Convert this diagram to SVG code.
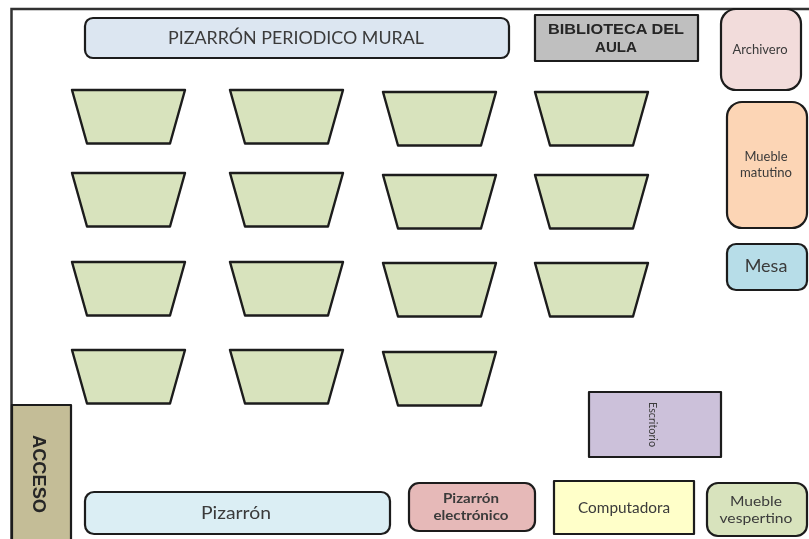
<svg xmlns="http://www.w3.org/2000/svg" width="809" height="539" viewBox="0 0 809 539">
<style>
text{font-family:Lato,"Open Sans","Liberation Sans",sans-serif;text-anchor:middle;fill:#3a3a3a}
.b{stroke:#1c1c1c;stroke-width:2.200;stroke-linejoin:round}
.d{fill:#d8e3bd;stroke:#1c1c1c;stroke-width:2.400;stroke-linejoin:round}
.a{font-family:"Liberation Sans",Arial,sans-serif;font-weight:700;fill:#262626}
</style>
<defs>
<filter id="soft" x="-2%" y="-2%" width="104%" height="104%"><feGaussianBlur stdDeviation="0.45"/></filter>
<polygon id="desk" class="d" points="0,0 113,0 98,53.500 15,53.500"/>
</defs>
<rect width="809" height="539" fill="#fff"/>
<g filter="url(#soft)">
<path id="walls" d="M809 9H11.500V539" fill="none" stroke="#333" stroke-width="2.500"/>
<g id="pizarron-mural"><rect class="b" x="85" y="18" width="424" height="40" rx="8" fill="#dce6f1"/><text x="296" y="43.500" font-size="18" textLength="256" lengthAdjust="spacingAndGlyphs">PIZARRÓN PERIODICO MURAL</text></g>
<g id="biblioteca"><rect class="b" x="535" y="15" width="163" height="46" fill="#bfbfbf"/><text class="a" x="616" y="34" font-size="14.500" textLength="136" lengthAdjust="spacingAndGlyphs">BIBLIOTECA DEL</text><text class="a" x="616" y="52" font-size="14.500" textLength="42" lengthAdjust="spacingAndGlyphs">AULA</text></g>
<g id="archivero"><rect class="b" x="721" y="9" width="80" height="81" rx="15" fill="#f2dcdb"/><text x="760" y="54" font-size="13">Archivero</text></g>
<g id="mueble-matutino"><rect class="b" x="727" y="102" width="80" height="126" rx="15" fill="#fcd5b5"/><text x="766" y="161" font-size="12.500" textLength="43" lengthAdjust="spacingAndGlyphs">Mueble</text><text x="766" y="176.500" font-size="12.500" textLength="52" lengthAdjust="spacingAndGlyphs">matutino</text></g>
<g id="mesa"><rect class="b" x="727" y="244" width="80" height="46" rx="9" fill="#b7dde8"/><text x="766" y="272" font-size="18">Mesa</text></g>
<g id="desks">
<use href="#desk" x="72" y="90"/><use href="#desk" x="230" y="90"/><use href="#desk" x="383" y="92"/><use href="#desk" x="535" y="92"/>
<use href="#desk" x="72" y="173"/><use href="#desk" x="230" y="173"/><use href="#desk" x="383" y="175"/><use href="#desk" x="535" y="175"/>
<use href="#desk" x="72" y="262"/><use href="#desk" x="230" y="262"/><use href="#desk" x="383" y="263"/><use href="#desk" x="535" y="263"/>
<use href="#desk" x="72" y="350"/><use href="#desk" x="230" y="350"/><use href="#desk" x="383" y="352"/>
</g>
<g id="acceso"><rect class="b" x="12" y="405" width="59" height="140" fill="#c4bd97"/><text class="a" transform="translate(33 474) rotate(90)" font-size="18" textLength="78" lengthAdjust="spacingAndGlyphs">ACCESO</text></g>
<g id="escritorio"><rect class="b" x="589" y="392" width="132" height="65" fill="#ccc1da"/><text transform="translate(649 424.500) rotate(90)" font-size="11" textLength="45" lengthAdjust="spacingAndGlyphs">Escritorio</text></g>
<g id="pizarron"><rect class="b" x="85" y="492" width="305" height="42" rx="9" fill="#dbeef4"/><text x="236" y="519" font-size="18" textLength="70" lengthAdjust="spacingAndGlyphs">Pizarrón</text></g>
<g id="pizarron-electronico"><rect class="b" x="409" y="483" width="126" height="48" rx="10" fill="#e6b9b8"/><text x="471" y="503" font-size="13" font-weight="700" textLength="56" lengthAdjust="spacingAndGlyphs">Pizarrón</text><text x="471" y="520" font-size="13" font-weight="700" textLength="75" lengthAdjust="spacingAndGlyphs">electrónico</text></g>
<g id="computadora"><rect class="b" x="554" y="481" width="140" height="53" fill="#ffffc9"/><text x="624" y="513" font-size="15" textLength="92" lengthAdjust="spacingAndGlyphs">Computadora</text></g>
<g id="mueble-vespertino"><rect class="b" x="707" y="483" width="100" height="53" rx="11" fill="#d8e3bd"/><text x="756" y="505.500" font-size="14" textLength="52" lengthAdjust="spacingAndGlyphs">Mueble</text><text x="756" y="523" font-size="14" textLength="73" lengthAdjust="spacingAndGlyphs">vespertino</text></g>
</g>
</svg>
